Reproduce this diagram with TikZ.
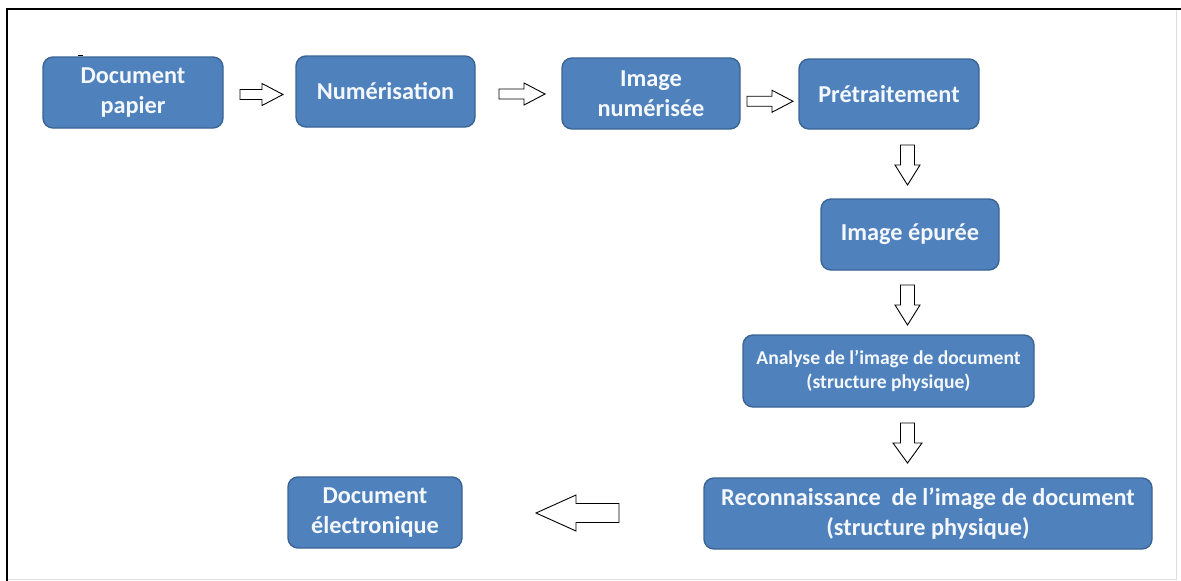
\documentclass[tikz,border=0pt]{standalone}
\usepackage{fontspec}
\setmainfont{Carlito}
\usetikzlibrary{calc}

\definecolor{boxfill}{HTML}{4F81BD}
\definecolor{boxedge}{HTML}{3A6494}
\definecolor{boxtext}{HTML}{F4F8FC}
\definecolor{framelight}{HTML}{DDDDDD}

\tikzset{
  stepbox/.style={rectangle, rounded corners=10pt, fill=boxfill, draw=boxedge,
    line width=1.4pt, align=center, text=boxtext, inner sep=0pt,
    font=\bfseries\fontsize{24.3}{29.5}\selectfont},
  smalltext/.style={font=\bfseries\fontsize{19.6}{23.5}\selectfont},
  arrowline/.style={draw=black, fill=white, line width=0.9pt, line join=miter},
  % block arrow centred on the origin, pointing along +x:
  % #1 length, #2 head length, #3 half shaft width, #4 half head width
  pics/blockarrow/.style n args={4}{code={
    \draw[arrowline] (-#1/2,-#3) -- (#1/2-#2,-#3) -- (#1/2-#2,-#4) -- (#1/2,0)
      -- (#1/2-#2,#4) -- (#1/2-#2,#3) -- (-#1/2,#3) -- cycle;
  }}
}

\begin{document}
\begin{tikzpicture}[x=1pt, y=-1pt]
  \useasboundingbox (0,0) rectangle (1181,581);

  % page frame
  \draw[framelight, line width=1pt] (1176,9) -- (1176,579) -- (7,579);
  \draw[black, line width=2pt] (1181,9) -- (7,9) -- (7,581);

  % process steps
  \node[stepbox, minimum width=180, minimum height=71] (papier) at (133,92.5) {Document\\papier};
  \node[stepbox, minimum width=179, minimum height=71] (numer) at (385.5,91.5) {Numérisation};
  \node[stepbox, minimum width=178, minimum height=71] (imnum) at (651,93.5) {Image\\numérisée};
  \node[stepbox, minimum width=180, minimum height=70] (pretr) at (889,94) {Prétraitement};
  \node[stepbox, minimum width=178, minimum height=71] (epure) at (910,234.5) {Image épurée};
  \node[stepbox, smalltext, minimum width=291, minimum height=72] (analyse) at (888.5,371)
    {Analyse de l’image de document\\(structure physique)};
  \node[stepbox, minimum width=448, minimum height=71] (recon) at (928,513.5)
    {Reconnaissance\ \ de l’image de document\\(structure physique)};
  \node[stepbox, minimum width=174, minimum height=71] (elec) at (375,512.5)
    {Document\\électronique};

  % small mark on top of the first box
  \draw[black, line width=1.5pt] (papier.north west) ++(36,-1) -- ++(5,0);

  % block arrows between the steps
  \pic at ($(papier.east)!0.5!(numer.west)+(2,2.5)$) {blockarrow={43}{21}{5}{11}};
  \pic at ($(numer.east)!0.5!(imnum.west)+(3.5,1.5)$) {blockarrow={46}{21}{5}{11}};
  \pic at ($(imnum.east)!0.5!(pretr.west)+(0.5,7.5)$) {blockarrow={46}{21}{5}{11}};
  \pic[rotate=-90] at ($(pretr.south)!0.5!(epure.north)+(8,1)$) {blockarrow={40}{20}{7}{12.5}};
  \pic[rotate=-90] at ($(epure.south)!0.5!(analyse.north)+(8.25,2.5)$) {blockarrow={40}{20}{7}{12.5}};
  \pic[rotate=-90] at ($(analyse.south)!0.5!(recon.north)+(-0.75,0.5)$) {blockarrow={40}{20}{7}{14.5}};
  \pic[rotate=180] at ($(recon.west)!0.5!(elec.east)+(-5.5,0)$) {blockarrow={83}{40}{9.5}{18}};
\end{tikzpicture}
\end{document}
